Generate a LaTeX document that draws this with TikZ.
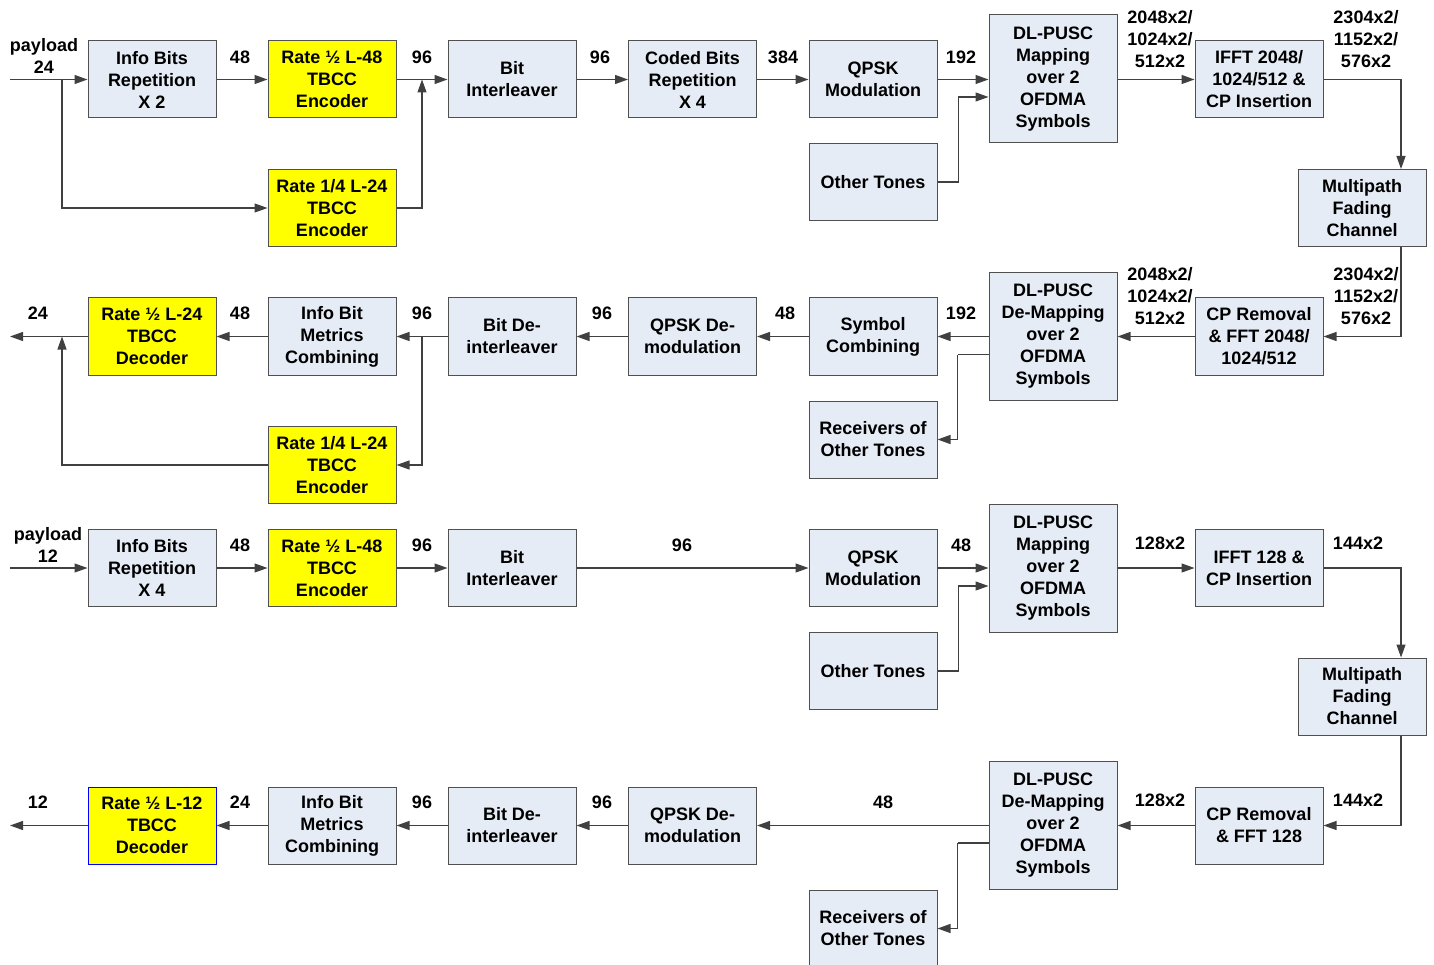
\documentclass[tikz,border=0pt]{standalone}
\usepackage{fontspec}
\setmainfont{Liberation Sans}
\usetikzlibrary{arrows.meta,calc}
\definecolor{boxfill}{HTML}{E6ECF6}
\definecolor{boxline}{HTML}{505050}
\definecolor{wirecol}{HTML}{404040}
\definecolor{tbcc}{HTML}{FFFF00}
\begin{document}
\begin{tikzpicture}[x=1pt,y=-1pt,
 blk/.style={draw=boxline, fill=boxfill, line width=1pt, minimum width=128pt, minimum height=77pt, inner sep=0pt, align=center, font=\fontsize{18}{22}\selectfont\bfseries},
 tall/.style={blk, minimum height=128pt},
 yel/.style={blk, fill=tbcc},
 lbl/.style={align=center, font=\fontsize{18}{22}\selectfont\bfseries, inner sep=0pt},
 ln/.style={draw=wirecol, line width=1.2pt},
 arr/.style={ln, -{Triangle[length=13pt,width=9pt]}}]
\clip (0,0) rectangle (1434,965);
\fill[white] (0,0) rectangle (1434,965);
% ---------- Row 1 ----------
\node[blk] (a1) at (152,79.5) {Info Bits\\Repetition\\X 2};
\node[yel] (b1) at (332,79.5) {Rate ½ L-48\\TBCC\\Encoder};
\node[yel] (q1) at (332,208) {Rate 1/4 L-24\\TBCC\\Encoder};
\node[blk] (c1) at (512,79.5) {Bit\\Interleaver};
\node[blk] (d1) at (692.5,79.5) {Coded Bits\\Repetition\\X 4};
\node[blk] (e1) at (873,79.5) {QPSK\\Modulation};
\node[blk] (o1) at (873,182) {Other Tones};
\node[tall] (f1) at (1053,79) {DL-PUSC\\Mapping\\over 2\\OFDMA\\Symbols};
\node[blk] (g1) at (1259,79.5) {IFFT 2048/\\1024/512 \&\\CP Insertion};
\node[blk] (m1) at (1362,208) {Multipath\\Fading\\Channel};
\coordinate (in1) at (10,79.5);
\coordinate (s1) at (62,79.5);
\coordinate (j1) at (422,79.5);
\draw[arr] (in1) -- (a1);
\draw[arr] (s1) |- (q1.west);
\draw[arr] (a1) -- (b1);
\draw[arr] (b1) -- (c1);
\draw[arr] (q1.east) -| (j1);
\draw[arr] (c1) -- (d1);
\draw[arr] (d1) -- (e1);
\draw[arr] (e1.east) -- (e1.east -| f1.west);
\draw[arr] (o1.east) -- ++(21,0) |- ([yshift=-18pt]f1.west);
\draw[arr] (f1.east |- g1.west) -- (g1.west);
\draw[arr] (g1.east) -| ([xshift=39pt]m1.north);
\node[lbl] at (44,56) {payload\\24};
\node[lbl] at (240,57) {48};
\node[lbl] at (422,57) {96};
\node[lbl] at (600,57) {96};
\node[lbl] at (783,57) {384};
\node[lbl] at (961,57) {192};
\node[lbl] at (1160,39) {2048x2/\\1024x2/\\512x2};
\node[lbl] at (1366,39) {2304x2/\\1152x2/\\576x2};
% ---------- Row 2 ----------
\node[yel] (a2) at (152,336.5) {Rate ½ L-24\\TBCC\\Decoder};
\node[blk] (b2) at (332,336.5) {Info Bit\\Metrics\\Combining};
\node[yel] (q2) at (332,465) {Rate 1/4 L-24\\TBCC\\Encoder};
\node[blk] (c2) at (512,336.5) {Bit De-\\interleaver};
\node[blk] (d2) at (692.5,336.5) {QPSK De-\\modulation};
\node[blk] (e2) at (873,336.5) {Symbol\\Combining};
\node[blk] (o2) at (873,439.5) {Receivers of\\Other Tones};
\node[tall] (f2) at (1053,336.5) {DL-PUSC\\De-Mapping\\over 2\\OFDMA\\Symbols};
\node[blk] (g2) at (1259,336.5) {CP Removal\\\& FFT 2048/\\1024/512};
\coordinate (out2) at (10,336.5);
\coordinate (s2) at (62,336.5);
\coordinate (j2) at (422,336.5);
\draw[arr] ([xshift=39pt]m1.south) |- (g2.east);
\draw[arr] (g2.west) -- (g2.west -| f2.east);
\draw[arr] (f2.west |- e2.east) -- (e2.east);
\draw[ln] ([yshift=-18pt]f2.west) -- ++(-31,0) coordinate (t2);
\draw[arr] (t2) |- (o2.east);
\draw[arr] (e2) -- (d2);
\draw[arr] (d2) -- (c2);
\draw[arr] (c2) -- (b2);
\draw[arr] (j2) |- (q2.east);
\draw[arr] (b2) -- (a2);
\draw[arr] (a2.west) -- (out2);
\draw[arr] (q2.west) -| (s2);
\node[lbl] at (38,313) {24};
\node[lbl] at (240,313) {48};
\node[lbl] at (422,313) {96};
\node[lbl] at (602,313) {96};
\node[lbl] at (785,313) {48};
\node[lbl] at (961,313) {192};
\node[lbl] at (1160,296) {2048x2/\\1024x2/\\512x2};
\node[lbl] at (1366,296) {2304x2/\\1152x2/\\576x2};
% ---------- Row 3 ----------
\node[blk] (a3) at (152,568) {Info Bits\\Repetition\\X 4};
\node[yel] (b3) at (332,568) {Rate ½ L-48\\TBCC\\Encoder};
\node[blk] (c3) at (512,568) {Bit\\Interleaver};
\node[blk] (e3) at (873,568) {QPSK\\Modulation};
\node[blk] (o3) at (873,671) {Other Tones};
\node[tall] (f3) at (1053,568) {DL-PUSC\\Mapping\\over 2\\OFDMA\\Symbols};
\node[blk] (g3) at (1259,568) {IFFT 128 \&\\CP Insertion};
\node[blk] (m3) at (1362,696.5) {Multipath\\Fading\\Channel};
\coordinate (in3) at (10,568);
\draw[arr] (in3) -- (a3);
\draw[arr] (a3) -- (b3);
\draw[arr] (b3) -- (c3);
\draw[arr] (c3) -- (e3);
\draw[arr] (e3.east) -- (e3.east -| f3.west);
\draw[arr] (o3.east) -- ++(21,0) |- ([yshift=-18pt]f3.west);
\draw[arr] (f3.east |- g3.west) -- (g3.west);
\draw[arr] (g3.east) -| ([xshift=39pt]m3.north);
\node[lbl] at (48,545) {payload\\12};
\node[lbl] at (240,545) {48};
\node[lbl] at (422,545) {96};
\node[lbl] at (682,545) {96};
\node[lbl] at (961,545) {48};
\node[lbl] at (1160,543) {128x2};
\node[lbl] at (1358,543) {144x2};
% ---------- Row 4 ----------
\node[yel, draw=blue] (a4) at (152,825.5) {Rate ½ L-12\\TBCC\\Decoder};
\node[blk] (b4) at (332,825.5) {Info Bit\\Metrics\\Combining};
\node[blk] (c4) at (512,825.5) {Bit De-\\interleaver};
\node[blk] (d4) at (692.5,825.5) {QPSK De-\\modulation};
\node[tall] (f4) at (1053,825) {DL-PUSC\\De-Mapping\\over 2\\OFDMA\\Symbols};
\node[blk] (g4) at (1259,825.5) {CP Removal\\\& FFT 128};
\node[blk] (o4) at (873,928.5) {Receivers of\\Other Tones};
\coordinate (out4) at (10,825.5);
\draw[arr] ([xshift=39pt]m3.south) |- (g4.east);
\draw[arr] (g4.west) -- (g4.west -| f4.east);
\draw[arr] (f4.west |- d4.east) -- (d4.east);
\draw[ln] ([yshift=-18pt]f4.west) -- ++(-31,0) coordinate (t4);
\draw[arr] (t4) |- (o4.east);
\draw[arr] (d4) -- (c4);
\draw[arr] (c4) -- (b4);
\draw[arr] (b4) -- (a4);
\draw[arr] (a4.west) -- (out4);
\node[lbl] at (38,802) {12};
\node[lbl] at (240,802) {24};
\node[lbl] at (422,802) {96};
\node[lbl] at (602,802) {96};
\node[lbl] at (883,802) {48};
\node[lbl] at (1160,800) {128x2};
\node[lbl] at (1358,800) {144x2};
\end{tikzpicture}
\end{document}
